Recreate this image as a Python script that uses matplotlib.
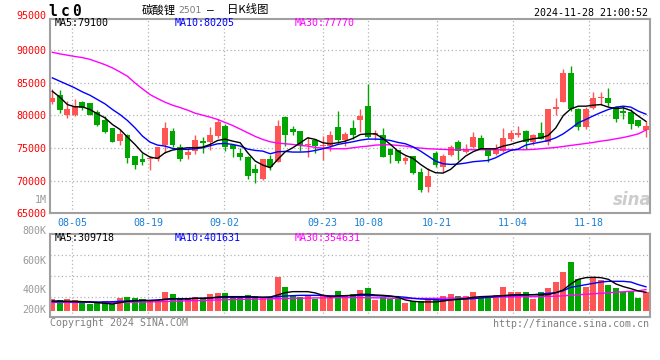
import numpy as np
import matplotlib.pyplot as plt

# daily K-line, 07-31 .. 11-28 (80 trading days)
open_ = [82040, 83210, 80150, 80150, 82140, 81990, 80560, 79290, 78010, 76070,
         76940, 73720, 73270, 73370, 73370, 75460, 77550, 75200, 73930, 74540,
         76020, 75920, 76790, 78320, 75460, 74180, 73570, 71740, 70200, 73270,
         72810, 79750, 77860, 77550, 75460, 76280, 75250, 75310, 78160, 76170,
         78010, 79290, 81530, 77040, 76940, 74800, 74640, 73010, 73720, 71280,
         69030, 74180, 72090, 73930, 75970, 74440, 75100, 76580, 74800, 74130,
         74540, 76430, 76940, 77550, 75970, 77350, 75870, 81020, 82040, 86580,
         80920, 78210, 81170, 82650, 82760, 81280, 80660, 80560, 79290, 77810]
high = [84130, 83980, 82300, 82600, 82300, 81990, 80770, 79900, 78010, 77700,
        77190, 73720, 74180, 73780, 75100, 78930, 78010, 75560, 75050, 76990,
        76630, 78160, 79390, 78620, 75660, 75000, 73830, 72500, 73270, 73880,
        79340, 79900, 78320, 77550, 76740, 76430, 76900, 77550, 80660, 77400,
        79290, 81070, 84850, 77810, 78010, 75050, 74640, 73780, 73720, 71990,
        71990, 74540, 74030, 75460, 76230, 75560, 77400, 76940, 75050, 75560,
        78010, 77810, 78320, 77810, 77190, 79030, 81070, 82650, 87140, 87650,
        81170, 81330, 83670, 83670, 84290, 81430, 81430, 81070, 79290, 79130]
low = [81740, 80310, 79640, 79900, 80820, 80050, 78370, 77350, 75870, 75460,
       72700, 71740, 72400, 71630, 73010, 74290, 75200, 73010, 73370, 74130,
       74240, 74690, 76580, 74540, 73620, 73110, 70260, 69640, 70050, 71680,
       72810, 75310, 76940, 74540, 73620, 74290, 73150, 74540, 75820, 75310,
       76330, 77400, 76580, 76170, 73620, 72700, 72700, 72500, 70970, 68270,
       68270, 72090, 71380, 73720, 73110, 74180, 74950, 74800, 72860, 73980,
       74440, 76070, 76680, 74800, 75460, 76330, 75460, 80050, 82040, 80660,
       77810, 77910, 80920, 81680, 81530, 79030, 79440, 77910, 78160, 76740]
close = [82760, 80820, 81070, 81430, 81170, 80150, 78470, 77450, 75870, 77090,
         73470, 72400, 72810, 73520, 75100, 78010, 75460, 73370, 74440, 76170,
         75770, 76940, 78980, 75100, 74850, 73620, 70710, 71170, 73270, 72090,
         78420, 76940, 77450, 75460, 75660, 75310, 75400, 76940, 76170, 77090,
         76940, 79900, 76680, 77300, 73620, 73930, 72960, 73420, 71120, 68520,
         70660, 72350, 73830, 75200, 74490, 74800, 76630, 74900, 73720, 74800,
         76580, 77350, 77350, 75970, 76940, 76430, 81070, 81280, 86580, 81020,
         78210, 81070, 82760, 82860, 81890, 79490, 80410, 78670, 78420, 78420]

ma5 = [83720, 82810, 81680, 81330, 81330, 80920, 80260, 79640, 78620, 77860,
       76680, 75560, 74290, 73620, 73420, 74290, 74700, 74900, 75050, 75050,
       75150, 75560, 76170, 76380, 76070, 75820, 74290, 73010, 72400, 71990,
       73270, 74440, 75050, 75820, 76580, 76330, 75820, 75660, 75820, 76070,
       76480, 77090, 77190, 77190, 76480, 75560, 74540, 73880, 73420, 72500,
       71730, 71220, 71170, 71730, 72760, 73780, 74440, 74900, 74900, 74900,
       75310, 75560, 75920, 76220, 76430, 76580, 76940, 78100, 80000, 81020,
       81430, 81430, 81580, 81680, 81280, 81070, 81170, 80760, 79900, 79100]
ma10 = [85770, 85260, 84750, 84230, 83620, 83110, 82450, 81790, 80920, 80150,
        79230, 78110, 76840, 75920, 75460, 75310, 74950, 74800, 74800, 74900,
        75050, 75360, 75660, 75710, 75560, 75310, 74850, 74640, 74540, 74130,
        74440, 74490, 74390, 74390, 74440, 74640, 74900, 75200, 75560, 75770,
        75970, 76220, 76380, 76380, 76330, 76170, 75870, 75660, 75200, 74540,
        73780, 73010, 72600, 72500, 72550, 72700, 72910, 73010, 73110, 73520,
        74130, 74640, 74850, 75460, 75710, 75920, 76170, 76580, 77190, 78010,
        78880, 79390, 79950, 80460, 80920, 81280, 81430, 81280, 80660, 80205]
ma30 = [89700, 89450, 89250, 89050, 88880, 88620, 88210, 87800, 87300, 86680,
        86020, 85000, 84080, 83210, 82600, 82040, 81580, 81220, 80820, 80360,
        80050, 79750, 79390, 78930, 78470, 77910, 77350, 76790, 76330, 75970,
        75770, 75660, 75560, 75410, 75310, 75100, 75000, 74900, 74900, 74900,
        75050, 75200, 75300, 75460, 75510, 75510, 75410, 75310, 75100, 75000,
        74900, 74850, 74800, 74750, 74750, 74750, 74750, 74750, 74750, 74750,
        74750, 74750, 74750, 74750, 74800, 74900, 75000, 75100, 75250, 75410,
        75560, 75710, 75870, 76070, 76220, 76430, 76630, 76890, 77190, 77770]

volume = [197000, 180000, 197000, 180000, 141000, 113000, 124000, 163000, 108000, 218000,
          235000, 213000, 192000, 168000, 168000, 319000, 281000, 202000, 208000, 225000,
          213000, 281000, 302000, 297000, 225000, 225000, 264000, 252000, 225000, 208000,
          566000, 398000, 259000, 225000, 259000, 202000, 264000, 264000, 331000, 247000,
          281000, 348000, 381000, 180000, 235000, 197000, 197000, 129000, 163000, 163000,
          208000, 208000, 252000, 281000, 247000, 247000, 314000, 235000, 225000, 264000,
          398000, 314000, 314000, 314000, 197000, 314000, 381000, 482000, 650000, 818000,
          528000, 403000, 561000, 516000, 432000, 386000, 314000, 331000, 213000, 314000]
vol_ma5 = [163000, 163000, 158000, 158000, 152000, 147000, 135000, 124000, 113000, 135000,
           158000, 169000, 174000, 169000, 174000, 191000, 202000, 197000, 197000, 208000,
           208000, 214000, 230000, 236000, 236000, 236000, 236000, 230000, 225000, 230000,
           264000, 303000, 320000, 320000, 320000, 298000, 258000, 236000, 247000, 253000,
           258000, 275000, 275000, 264000, 258000, 247000, 225000, 180000, 158000, 147000,
           147000, 147000, 163000, 180000, 191000, 202000, 225000, 236000, 241000, 247000,
           253000, 264000, 269000, 269000, 269000, 264000, 269000, 303000, 348000, 449000,
           527000, 555000, 561000, 555000, 527000, 449000, 404000, 370000, 331000, 309718]
vol_ma10 = [151000, 151000, 151000, 146000, 146000, 146000, 146000, 146000, 151000, 157000,
            163000, 163000, 168000, 174000, 180000, 191000, 197000, 202000, 202000, 208000,
            208000, 213000, 219000, 225000, 225000, 225000, 225000, 225000, 225000, 225000,
            236000, 247000, 252000, 258000, 258000, 258000, 258000, 247000, 247000, 252000,
            252000, 258000, 258000, 252000, 247000, 241000, 236000, 225000, 208000, 197000,
            191000, 186000, 180000, 186000, 191000, 197000, 202000, 213000, 225000, 236000,
            247000, 252000, 258000, 264000, 269000, 280000, 291000, 303000, 336000, 392000,
            414000, 437000, 459000, 481000, 493000, 493000, 493000, 481000, 437000, 401631]
vol_ma30 = [140000, 140000, 140000, 140000, 140000, 140000, 138000, 138000, 138000, 140000,
            142000, 144000, 146000, 148000, 150000, 154000, 158000, 162000, 166000, 170000,
            172000, 176000, 180000, 184000, 188000, 190000, 192000, 194000, 196000, 198000,
            202000, 206000, 208000, 210000, 212000, 214000, 216000, 218000, 220000, 220000,
            220000, 220000, 218000, 216000, 214000, 210000, 208000, 205000, 205000, 205000,
            205000, 207000, 210000, 212000, 214000, 216000, 218000, 220000, 222000, 224000,
            228000, 230000, 232000, 234000, 236000, 238000, 240000, 244000, 250000, 260000,
            268000, 276000, 284000, 292000, 300000, 310000, 318000, 326000, 334000, 354631]

tick_days = [3, 13, 23, 36, 42, 51, 61, 71]
tick_labels = ['08-05', '08-19', '09-02', '09-23', '10-08', '10-21', '11-04', '11-18']
price_ticks = [65000, 70000, 75000, 80000, 85000, 90000]

RED = '#ff5555'
GREEN = '#00a600'
FRAME = '#a0a0a0'
GRID = '#b4b4b4'
MONO = 'DejaVu Sans Mono'

x = np.arange(len(close))
up = np.array(close) >= np.array(open_)
colors = np.where(up, RED, GREEN)
# sina spaces its date grid a touch wider than the candles
grid_x = np.array(tick_days) * 1.0107 - 0.39

fig = plt.figure(figsize=(6.6, 3.6), dpi=100)
ax = fig.add_axes([50/660, 1-213.3/360, 600/660, 194.3/360])
axv = fig.add_axes([50/660, 1-317.3/360, 600/660, 83/360])

for a in (ax, axv):
    for s in a.spines.values():
        s.set_color(FRAME)
        s.set_linewidth(1.5)
    a.set_xlim(-0.31, 79.54)
    a.set_xticks(grid_x)
    a.tick_params(length=0)
    a.grid(axis='x', color=GRID, linestyle=(0, (1, 2)), linewidth=0.9)
    a.set_axisbelow(True)

# ---- price panel
ax.set_ylim(65000, 94800)
ax.set_yticks(price_ticks)
ax.set_yticklabels([str(v) for v in price_ticks], color='red', family=MONO, fontsize=7.2)
ax.tick_params(axis='y', pad=2.4)
for v in price_ticks[1:]:
    ax.axhline(v, color=GRID, linestyle=(0, (1, 2)), linewidth=0.9, zorder=0)
ax.set_xticklabels(tick_labels, color='#1a7fd4', family=MONO, fontsize=7.2)
ax.tick_params(axis='x', pad=3.5)

body_lo = np.minimum(open_, close)
body_h = np.maximum(np.abs(np.array(close) - np.array(open_)), 60)
ax.vlines(x, low, high, colors=colors, linewidth=1, zorder=2)
ax.bar(x, body_h, bottom=body_lo, width=0.78, color=colors, linewidth=0, zorder=3)
ax.plot(x, ma30, color='#ff00ff', linewidth=1, zorder=4)
ax.plot(x, ma10, color='#0000ff', linewidth=1, zorder=4)
ax.plot(x, ma5, color='black', linewidth=1, zorder=4)

ax.text(-0.0055, 1.0154, '95000', transform=ax.transAxes, ha='right', va='center',
        color='red', family=MONO, fontsize=7.2, clip_on=False)
ax.text(-0.0055, 0.066, '1M', transform=ax.transAxes, ha='right', va='center',
        color='#999999', family=MONO, fontsize=7.2, clip_on=False)
ax.text(0.0083, 0.978, 'MA5:%d' % ma5[-1], transform=ax.transAxes, va='center',
        color='black', family=MONO, fontsize=7.2)
ax.text(0.2083, 0.978, 'MA10:%d' % ma10[-1], transform=ax.transAxes, va='center',
        color='#0000ff', family=MONO, fontsize=7.2)
ax.text(0.4083, 0.978, 'MA30:%d' % ma30[-1], transform=ax.transAxes, va='center',
        color='#ff00ff', family=MONO, fontsize=7.2)
ax.text(0.97, 0.07, 'sina', transform=ax.transAxes, ha='center', va='center',
        color='#cccccc', fontsize=12, fontweight='bold', style='italic', zorder=1)

# ---- volume panel
axv.set_ylim(-111000, 1283000)
axv.set_yticks([])
axv.set_xticklabels([])
for f in (0.25, 0.5, 0.75):
    axv.plot([0, 1], [f, f], transform=axv.transAxes, color=GRID,
             linestyle=(0, (1, 2)), linewidth=0.9, zorder=0)
axv.bar(x, volume, width=0.8, color=colors, linewidth=0, zorder=2)
axv.plot(x, vol_ma30, color='#ff00ff', linewidth=1, zorder=3)
axv.plot(x, vol_ma10, color='#0000ff', linewidth=1, zorder=3)
axv.plot(x, vol_ma5, color='black', linewidth=1, zorder=3)
for lab, f in (('800K', 1.043), ('600K', 0.682), ('400K', 0.325), ('200K', 0.088)):
    axv.text(-0.0055, f, lab, transform=axv.transAxes, ha='right', va='center',
             color='#999999', family=MONO, fontsize=7.2, clip_on=False)
axv.text(0.0083, 0.952, 'MA5:%d' % vol_ma5[-1], transform=axv.transAxes, va='center',
         color='black', family=MONO, fontsize=7.2)
axv.text(0.2083, 0.952, 'MA10:%d' % vol_ma10[-1], transform=axv.transAxes, va='center',
         color='#0000ff', family=MONO, fontsize=7.2)
axv.text(0.4083, 0.952, 'MA30:%d' % vol_ma30[-1], transform=axv.transAxes, va='center',
         color='#ff00ff', family=MONO, fontsize=7.2)

# ---- header / footer
for ch, px in (('l', 52.5), ('c', 65), ('0', 76.5)):
    fig.text(px/660, 1-11/360, ch, ha='center', va='center', family=MONO,
             fontsize=10.5, fontweight='bold')
cjk = ['Noto Sans CJK SC', 'DejaVu Sans']
fig.text(141.5/660, 1-10/360, '碳酸锂', ha='left', va='center', family=cjk, fontsize=8.2)
fig.text(178.5/660, 1-10.5/360, '2501', ha='left', va='center', family='DejaVu Sans',
         fontsize=6.6, color='#777777')
fig.text(210/660, 1-10/360, '–', ha='center', va='center', family=MONO, fontsize=8)
fig.text(227/660, 1-10/360, '日K线图', ha='left', va='center', family=cjk, fontsize=8.2)
fig.text(648/660, 1-12.7/360, '2024-11-28 21:00:52', ha='right', va='center',
         family=MONO, fontsize=7.2)
fig.text(50/660, 1-323/360, 'Copyright 2024 SINA.COM', ha='left', va='center',
         family=MONO, fontsize=7.2, color='#808080')
fig.text(649/660, 1-324/360, 'http://finance.sina.com.cn', ha='right', va='center',
         family=MONO, fontsize=7.2, color='#808080')

fig.savefig('out.png', dpi=100)
